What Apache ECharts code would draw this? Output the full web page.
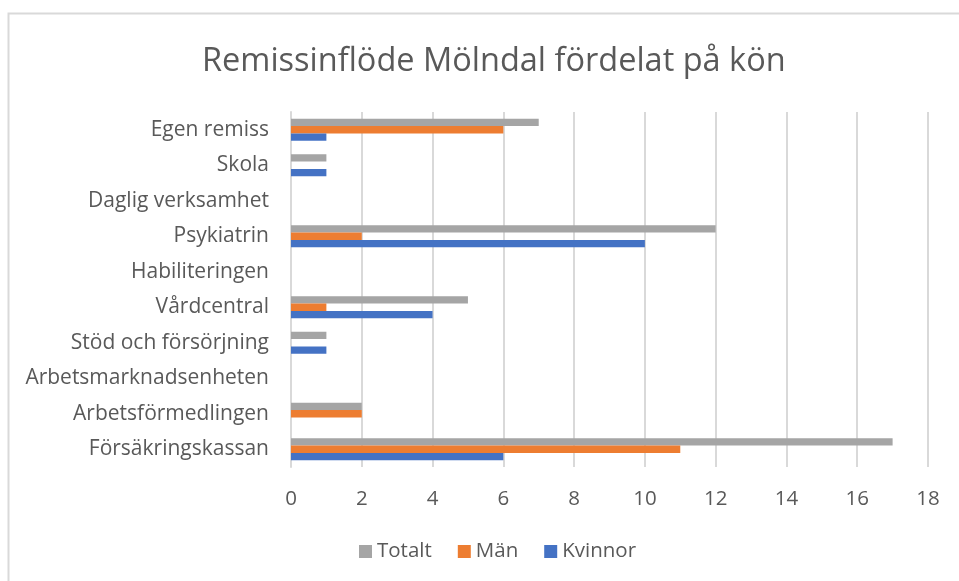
<!DOCTYPE html>
<html><head><meta charset="utf-8">
<script src="https://cdn.jsdelivr.net/npm/echarts@6/dist/echarts.min.js"></script>
<style>html,body{margin:0;padding:0;background:#fff}#c{width:959px;height:581px}</style>
</head><body><div id="c"></div>
<script>
const categories = ['Försäkringskassan','Arbetsförmedlingen','Arbetsmarknadsenheten','Stöd och försörjning','Vårdcentral','Habiliteringen','Psykiatrin','Daglig verksamhet','Skola','Egen remiss'];
const totalt  = [17, 2, 0, 1, 5, 0, 12, 0, 1, 7];
const man     = [11, 2, 0, 0, 1, 0, 2, 0, 0, 6];
const kvinnor = [6, 0, 0, 1, 4, 0, 10, 0, 1, 1];
const xTicks = [0, 2, 4, 6, 8, 10, 12, 14, 16, 18];

const font = '"Open Sans", "Noto Sans", sans-serif';
const chart = echarts.init(document.getElementById('c'), null, {renderer:'canvas'});
chart.setOption({
  animation: false,
  textStyle: {fontFamily: font},
  graphic: [{type:'rect', shape:{x:8.5, y:13.5, width:960, height:600}, style:{fill:'none', stroke:'#D9D9D9', lineWidth:2}}],
  title: {text:'Remissinflöde Mölndal fördelat på kön', left:197, top:40,
    textStyle:{fontFamily:font, fontSize:32.5, fontWeight:'normal', color:'#595959'}},
  legend: {data:['Totalt','Män','Kvinnor'], bottom:14, left:354, itemWidth:13, itemHeight:13, itemGap:26,
    textStyle:{fontFamily:font, fontSize:20.5, color:'#595959'}, icon:'rect'},
  grid: {left:291, right:31, top:112, bottom:114},
  xAxis: {type:'value', min:xTicks[0], max:xTicks[xTicks.length-1], interval:2,
    axisLine:{show:false}, axisTick:{show:false},
    splitLine:{lineStyle:{color:'#D9D9D9', width:2}},
    axisLabel:{fontFamily:font, fontSize:20.5, color:'#595959', margin:22}},
  yAxis: {type:'category', data:categories,
    axisLine:{lineStyle:{color:'#D9D9D9', width:2}}, axisTick:{show:false},
    axisLabel:{fontFamily:font, fontSize:21, color:'#595959', margin:22}},
  series: [
    {name:'Totalt', type:'bar', data:totalt, itemStyle:{color:'#A5A5A5'}, barGap:'0%', barCategoryGap:'38%'},
    {name:'Män', type:'bar', data:man, itemStyle:{color:'#ED7D31'}, barGap:'0%', barCategoryGap:'38%'},
    {name:'Kvinnor', type:'bar', data:kvinnor, itemStyle:{color:'#4472C4'}, barGap:'0%', barCategoryGap:'38%'}
  ]
});
</script></body></html>
